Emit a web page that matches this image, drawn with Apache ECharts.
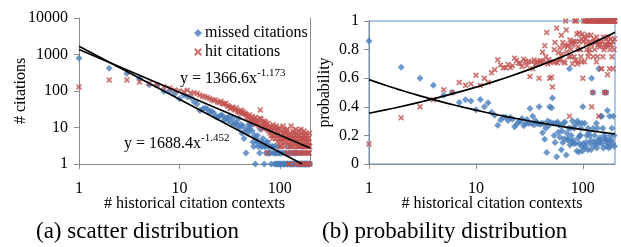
<!DOCTYPE html>
<html><head><meta charset="utf-8">
<script src="https://cdn.jsdelivr.net/npm/echarts@6/dist/echarts.min.js"></script>
<style>html,body{margin:0;padding:0;background:#fff}#c{width:621px;height:247px}</style>
</head><body><div id="c"></div>
<script>
// # historical citation contexts: x = index + 1 (1..200)
const hitCitations = [
129,200,200,176,160,145,130,120,107,100,95,105,88,90,
85,78,72,70,66,62,58,55,57,50,48,52,45,44,46,40,
38,33,35,36,32,30,34,28,27,26,30,25,28,24,24,23,21,19,18,22,
17,14,20,16,17,15,19,12,14,16,
13,11,18,30,17,10,14,12,9,15,
11,14,10,12,2,13,9,8,11,7,
10,6,9,5,8,12,6,10,7,9,
5,11,6,8,4,9,7,5,10,3,
6,4,8,5,3,7,5,11,4,6,
9,3,5,7,4,8,6,2,9,5,
2,4,1,1,6,3,7,5,4,11,
3,6,2,5,8,4,3,7,5,2,
1,6,4,9,3,5,7,2,4,4,
6,3,1,3,5,8,2,4,6,1,
3,9,5,2,1,4,7,3,5,5,
2,6,4,1,8,3,5,2,6,4,
1,7,3,2,5,3,3,4,1,6,
2,2,5,3,1,4,2,7,3,1];
const missedCitations = [
790,420,300,215,148,145,98,98,84,61,78,70,66,51,
44,29,32,34,32,27,28,25,20,19,20,22,21,16,18,18,
15,21,14,18,12,13,14,11,18,10,12,7,11,5,8,2,9,7,12,9,
11,12,8,4,3,6,1,5,4,6,
3,4,2,9,3,4,3,5,0,1,
3,3,2,4,4,2,3,2,2,3,
2,1,3,0,3,2,0,1,3,2,
2,1,1,2,1,3,1,2,1,2,
1,0,1,2,0,1,0,2,1,0,
1,1,0,2,0,2,1,0,1,1,
3,0,0,1,2,0,1,0,1,2,
0,1,0,2,1,0,1,0,1,0,
2,1,0,2,0,1,0,1,0,2,
1,0,0,1,0,1,0,1,0,1,
0,2,1,0,1,0,1,0,1,3,
0,1,0,0,1,0,1,1,0,1,
0,1,0,0,1,0,1,0,0,1,
0,1,0,0,0,1,0,1,0,0];
const xTicks = [1, 10, 100];
const countTicks = [1, 10, 100, 1000, 10000];
// power-law trendlines (coefficient, exponent)
const hitTrend = [1366.6, -1.173];
const missedTrend = [1688.4, -1.452];
const hitProbTrend = [0.355, 0.18];
const missedProbTrend = [0.59, -0.195];
const trendSamples = [1,1.5,2,3,4,6,8,10,15,20,30,40,60,80,100,130,160,200];

const contexts = hitCitations.map((_, i) => i + 1);
const hitPts = [], missPts = [], hitProb = [], missProb = [];
contexts.forEach((x, i) => {
  const h = hitCitations[i], m = missedCitations[i];
  if (h > 0) hitPts.push([x, h]);
  if (m > 0) missPts.push([x, m]);
  if (h > 0) hitProb.push([x, h / (h + m)]);
  if (m > 0) missProb.push([x, m / (h + m)]);
});
const pw = (t, x) => t[0] * Math.pow(x, t[1]);
const hitLine = [[1, pw(hitTrend, 1)], [200, pw(hitTrend, 200)]];
const missEnd = Math.pow(missedTrend[0], -1 / missedTrend[1]);
const missLine = [[1, pw(missedTrend, 1)], [missEnd, 1]];
const hitProbLine = trendSamples.map(x => [x, pw(hitProbTrend, x)]);
const missProbLine = trendSamples.map(x => [x, pw(missedProbTrend, x)]);

const FONT = 'Liberation Serif';
const BLUE = '#4a7ebb', RED = '#c0504d', AX = '#8c8c8c';
const X_SYM = 'path://M0,2L2,0L5,3L8,0L10,2L7,5L10,8L8,10L5,7L2,10L0,8L3,5Z';
const lab = {fontFamily: FONT, fontSize: 16, color: '#000'};
const fmt = v => String(+(+v).toPrecision(6));

const chart = echarts.init(document.getElementById('c'), null, {renderer: 'canvas'});
chart.setOption({
  animation: false,
  textStyle: {fontFamily: FONT},
  grid: [
    {left: 79, top: 18, width: 231, height: 146},
    {left: 369, top: 21, width: 246, height: 143, show: true, borderColor: '#5b8fd0', borderWidth: 1, backgroundColor: 'transparent'}
  ],
  legend: {
    left: 189, top: 20, orient: 'vertical', itemGap: 3, itemWidth: 8, itemHeight: 8,
    textStyle: {fontFamily: FONT, fontSize: 16, color: '#000', padding: [0,0,0,-2]},
    data: [{name: 'missed citations', icon: 'diamond'}, {name: 'hit citations', icon: X_SYM}]
  },
  xAxis: [
    {gridIndex: 0, type: 'log', logBase: 10, min: 1, max: 200,
     name: '# historical citation contexts', nameLocation: 'middle', nameGap: 32, nameMoveOverlap: false, nameTextStyle: lab,
     axisLine: {lineStyle: {color: AX}}, axisTick: {length: 5, customValues: xTicks, lineStyle: {color: AX}},
     axisLabel: {...lab, margin: 17, customValues: xTicks, formatter: fmt}, splitLine: {show: false}, minorTick: {show: false}},
    {gridIndex: 1, type: 'log', logBase: 10, min: 1, max: 200,
     name: '# historical citation contexts', nameLocation: 'middle', nameGap: 32, nameMoveOverlap: false, nameTextStyle: lab,
     axisLine: {lineStyle: {color: AX}}, axisTick: {length: 5, customValues: xTicks, lineStyle: {color: AX}},
     axisLabel: {...lab, margin: 17, customValues: xTicks, formatter: fmt}, splitLine: {show: false}}
  ],
  yAxis: [
    {gridIndex: 0, type: 'log', logBase: 10, min: 1, max: 10000,
     name: '# citations', nameLocation: 'middle', nameGap: 50, nameMoveOverlap: false, nameTextStyle: lab,
     axisLine: {show: true, lineStyle: {color: AX}}, axisTick: {show: true, length: 5, customValues: countTicks, lineStyle: {color: AX}},
     axisLabel: {...lab, margin: 11, customValues: countTicks, formatter: fmt}, splitLine: {show: false}},
    {gridIndex: 0, type: 'log', logBase: 10, min: 1, max: 10000, position: 'right',
     axisLine: {show: true, lineStyle: {color: AX}}, axisTick: {show: false}, axisLabel: {show: false}, splitLine: {show: false}},
    {gridIndex: 1, type: 'value', min: 0, max: 1, interval: 0.2,
     name: 'probability', nameLocation: 'middle', nameGap: 36, nameMoveOverlap: false, nameTextStyle: lab,
     axisLine: {show: true, lineStyle: {color: AX}}, axisTick: {show: true, length: 5, lineStyle: {color: AX}},
     axisLabel: {...lab, margin: 10}, splitLine: {show: false}}
  ],
  series: [
    {name: 'missed citations', type: 'scatter', xAxisIndex: 0, yAxisIndex: 0, data: missPts,
     symbol: 'diamond', symbolSize: [7, 7], itemStyle: {color: BLUE}, z: 2},
    {name: 'hit citations', type: 'scatter', xAxisIndex: 0, yAxisIndex: 0, data: hitPts,
     symbol: X_SYM, symbolSize: 6, itemStyle: {color: RED}, z: 3},
    {name: 'hit trend', type: 'line', xAxisIndex: 0, yAxisIndex: 0, data: hitLine, showSymbol: false,
     lineStyle: {color: '#000', width: 1.7}, z: 5, silent: true},
    {name: 'missed trend', type: 'line', xAxisIndex: 0, yAxisIndex: 0, data: missLine, showSymbol: false,
     lineStyle: {color: '#000', width: 1.7}, z: 5, silent: true},
    {name: 'missed citations', type: 'scatter', xAxisIndex: 1, yAxisIndex: 2, data: missProb,
     symbol: 'diamond', symbolSize: [7, 7], itemStyle: {color: BLUE}, z: 2},
    {name: 'hit citations', type: 'scatter', xAxisIndex: 1, yAxisIndex: 2, data: hitProb,
     symbol: X_SYM, symbolSize: 6, itemStyle: {color: RED}, z: 3},
    {name: 'hit prob trend', type: 'line', xAxisIndex: 1, yAxisIndex: 2, data: hitProbLine, showSymbol: false, smooth: true,
     lineStyle: {color: '#000', width: 1.7}, z: 5, silent: true},
    {name: 'missed prob trend', type: 'line', xAxisIndex: 1, yAxisIndex: 2, data: missProbLine, showSymbol: false, smooth: true,
     lineStyle: {color: '#000', width: 1.7}, z: 5, silent: true}
  ],
  graphic: [
    {type: 'text', left: 180, top: 68, z: 10, style: {text: 'y = 1366.6x{s|-1.173}', font: '16px "Liberation Serif"', fill: '#000',
      rich: {s: {fontSize: 11, fontFamily: FONT, verticalAlign: 'top', lineHeight: 21}}}},
    {type: 'text', left: 124, top: 133, z: 10, style: {text: 'y = 1688.4x{s|-1.452}', font: '16px "Liberation Serif"', fill: '#000',
      rich: {s: {fontSize: 11, fontFamily: FONT, verticalAlign: 'top', lineHeight: 21}}}},
    {type: 'text', left: 36, top: 220, style: {text: '(a) scatter distribution', font: '23px "Liberation Serif"', fill: '#000'}},
    {type: 'text', left: 322, top: 220, style: {text: '(b) probability distribution', font: '23px "Liberation Serif"', fill: '#000'}}
  ]
});
</script></body></html>
